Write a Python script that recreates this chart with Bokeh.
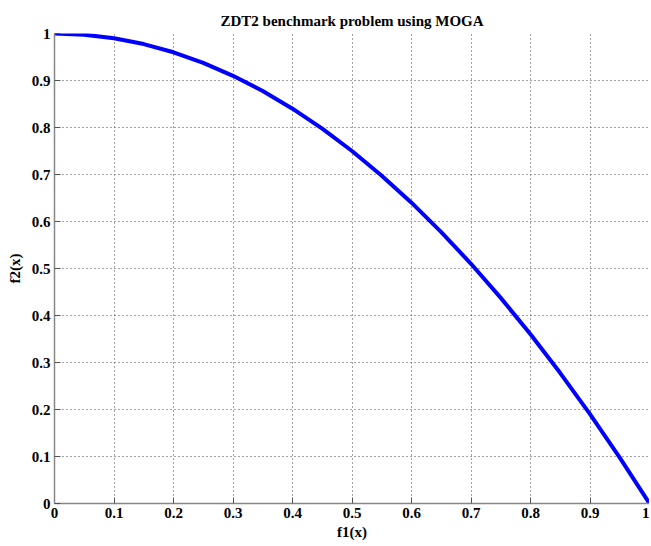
from bokeh.plotting import figure
from bokeh.models import Range1d, FixedTicker
from bokeh.embed import file_html
from bokeh.resources import INLINE

f1 = [0.0, 0.05, 0.1, 0.15, 0.2, 0.25, 0.3, 0.35, 0.4, 0.45, 0.5,
      0.55, 0.6, 0.65, 0.7, 0.75, 0.8, 0.85, 0.9, 0.95, 1.0]
f2 = [1.0, 0.9975, 0.99, 0.9775, 0.96, 0.9375, 0.91, 0.8775, 0.84, 0.7975, 0.75,
      0.6975, 0.64, 0.5775, 0.51, 0.4375, 0.36, 0.2775, 0.19, 0.0975, 0.0]
ticks = [0, 0.1, 0.2, 0.3, 0.4, 0.5, 0.6, 0.7, 0.8, 0.9, 1]
tick_labels = {0: "0", 0.1: "0.1", 0.2: "0.2", 0.3: "0.3", 0.4: "0.4", 0.5: "0.5",
               0.6: "0.6", 0.7: "0.7", 0.8: "0.8", 0.9: "0.9", 1: "1"}

FONT = "Liberation Serif"

p = figure(frame_width=595, frame_height=470, output_backend="svg", toolbar_location=None,
           x_range=Range1d(0, 1), y_range=Range1d(0, 1),
           title="ZDT2 benchmark problem using MOGA",
           min_border_left=54, min_border_right=0, min_border_top=33, min_border_bottom=40)
p.outline_line_color = None
p.background_fill_color = "white"
p.border_fill_color = "white"

p.title.text_font = FONT
p.title.text_font_style = "bold"
p.title.text_font_size = "15px"
p.title.align = "center"
p.title.text_color = "black"

p.line(f1, f2, line_color="#0000FF", line_width=4)

for ax, lab in ((p.xaxis, "f1(x)"), (p.yaxis, "f2(x)")):
    ax.ticker = FixedTicker(ticks=ticks)
    ax.major_label_overrides = tick_labels
    ax.axis_label = lab
    ax.axis_label_text_font = FONT
    ax.axis_label_text_font_style = "bold"
    ax.axis_label_text_font_size = "15px"
    ax.axis_label_text_color = "black"
    ax.axis_label_standoff = 3
    ax.major_label_text_font = FONT
    ax.major_label_text_font_style = "bold"
    ax.major_label_text_font_size = "15px"
    ax.major_label_text_color = "black"
    ax.major_label_standoff = 4
    ax.axis_line_color = "#888888"
    ax.axis_line_width = 1.5
    ax.major_tick_in = 6
    ax.major_tick_out = 0
    ax.major_tick_line_color = "#555555"
    ax.minor_tick_line_color = None

p.yaxis.major_label_orientation = "horizontal"
p.yaxis.axis_label_standoff = 6

for g in (p.xgrid, p.ygrid):
    g.ticker = FixedTicker(ticks=ticks)
    g.grid_line_color = "#444444"
    g.grid_line_dash = "1 3"
    g.grid_line_width = 1

open("out.html", "w").write(file_html(p, INLINE))
